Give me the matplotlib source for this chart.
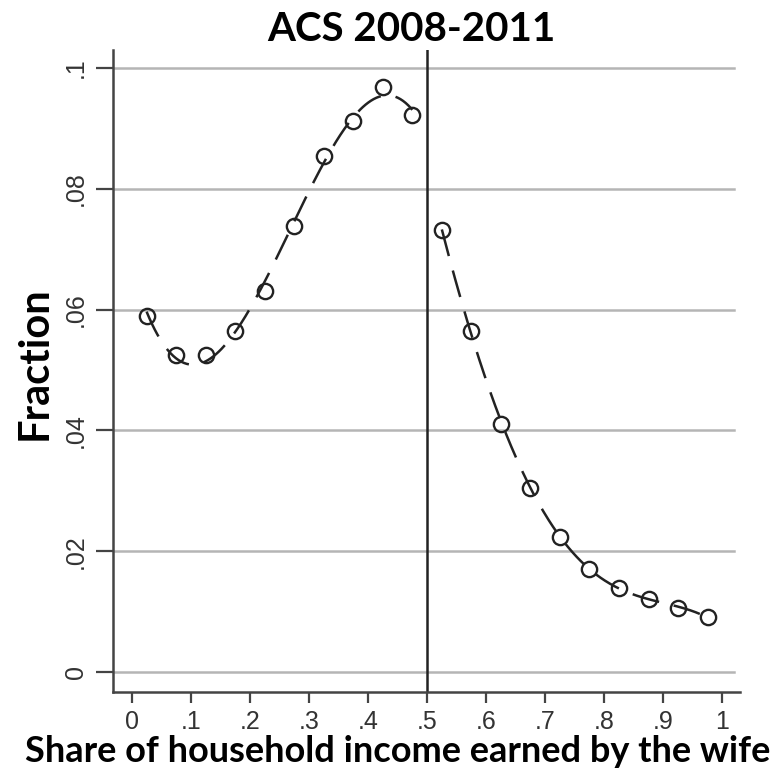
import numpy as np
import matplotlib.pyplot as plt

# binned share of household income earned by the wife (bin midpoints)
bins_left = [0.025, 0.075, 0.125, 0.175, 0.225, 0.275, 0.325, 0.375, 0.425, 0.475]
frac_left = [0.059, 0.0525, 0.0525, 0.0564, 0.0631, 0.0739, 0.0855, 0.0912, 0.0968, 0.0923]
bins_right = [0.525, 0.575, 0.625, 0.675, 0.725, 0.775, 0.825, 0.875, 0.925, 0.975]
frac_right = [0.0731, 0.0564, 0.0411, 0.0305, 0.0224, 0.0171, 0.0139, 0.0121, 0.0106, 0.0091]

xticks = [0, .1, .2, .3, .4, .5, .6, .7, .8, .9, 1]
xticklabels = ['0', '.1', '.2', '.3', '.4', '.5', '.6', '.7', '.8', '.9', '1']
yticks = [0, .02, .04, .06, .08, .1]
yticklabels = ['0', '.02', '.04', '.06', '.08', '.1']

plt.rcParams['font.family'] = ['Liberation Sans', 'DejaVu Sans']

fig = plt.figure(figsize=(7.79, 7.80), dpi=100)
ax = fig.add_axes([0.145, 0.113, 0.805, 0.823])

# smooth polynomial fit on each side of the 0.5 threshold
for xs, ys, deg in [(bins_left, frac_left, 3), (bins_right, frac_right, 4)]:
    xs = np.array(xs)
    ys = np.array(ys)
    coef = np.polyfit(xs, ys, deg)
    xg = np.linspace(xs.min(), xs.max(), 200)
    ax.plot(xg, np.polyval(coef, xg), color='#222222', lw=1.8,
            dashes=(11, 6), zorder=3)
    ax.plot(xs, ys, 'o', mfc='none', mec='#222222', mew=1.7, ms=11, zorder=4)

ax.axvline(0.5, color='#222222', lw=1.8, zorder=2)

ax.set_xlim(-0.032, 1.03)
ax.set_ylim(-0.0033, 0.103)
ax.set_xticks(xticks)
ax.set_xticklabels(xticklabels)
ax.set_yticks(yticks)
ax.set_yticklabels(yticklabels, rotation=90, va='center')

for y in yticks:
    ax.plot([-0.032, 1.02], [y, y], color='#b5b5b5', lw=1.8, zorder=1)

for side in ['top', 'right']:
    ax.spines[side].set_visible(False)
for side in ['left', 'bottom']:
    ax.spines[side].set_linewidth(1.8)
    ax.spines[side].set_color('#444444')

ax.tick_params(axis='y', length=12, width=1.6, color='#444444', labelsize=18,
               pad=6, labelcolor='#333333')
ax.tick_params(axis='x', length=8, width=1.6, color='#444444', labelsize=18,
               pad=5, labelcolor='#333333')

fig.text(0.528, 0.962, 'ACS 2008-2011', ha='center', va='center',
         fontsize=29, fontweight='bold', family='Lato')
fig.text(0.044, 0.535, 'Fraction', ha='center', va='center', rotation=90,
         fontsize=30, fontweight='bold', family='Lato')
fig.text(0.51, 0.036, 'Share of household income earned by the wife',
         ha='center', va='center', fontsize=26, family='Lato',
         fontweight='bold')

fig.savefig('out.png', dpi=100)
